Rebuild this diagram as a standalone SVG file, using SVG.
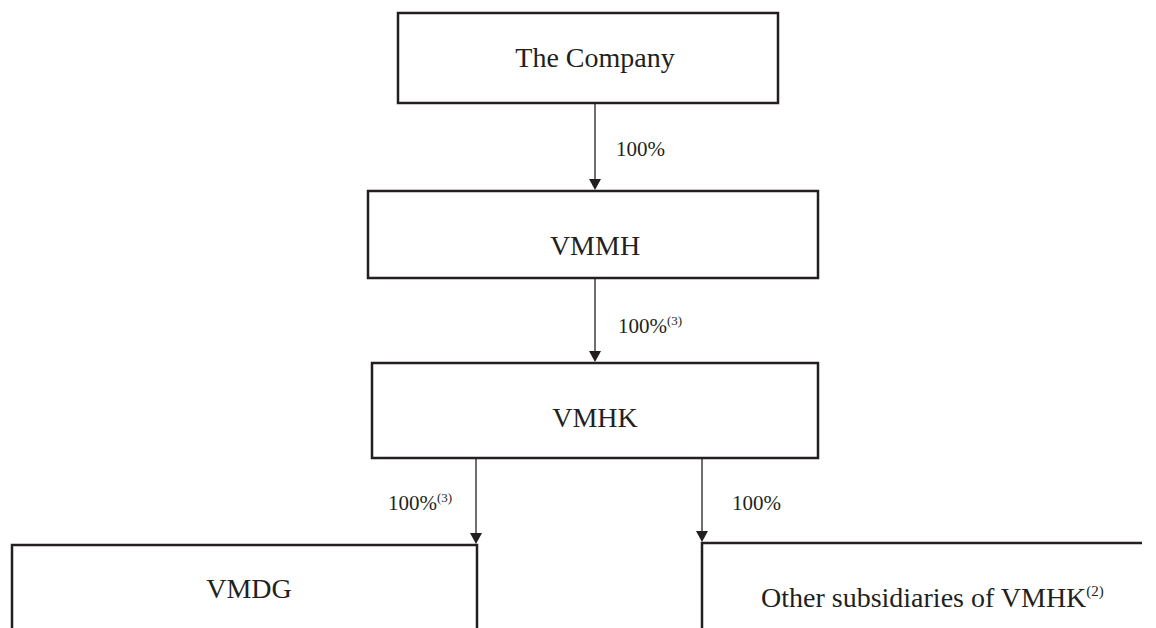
<svg xmlns="http://www.w3.org/2000/svg" width="1156" height="628" viewBox="0 0 1156 628">
<style>
.box{fill:#fff;stroke:#231f20;stroke-width:2.5}
.edge{stroke:#231f20;stroke-width:1.3;fill:none}
.head{fill:#231f20}
.t{font-family:"Liberation Serif","Times New Roman",serif;fill:#231f20}
.n{font-size:28px;text-anchor:middle}
.l{font-size:21px}
.s{font-size:13px}
</style>
<defs>
<path id="ah" d="M-6,-11 L6,-11 L0,0 Z"/>
</defs>
<rect width="1156" height="628" fill="#fff"/>
<g id="connectors">
<line class="edge" x1="595" y1="104" x2="595" y2="182"/>
<use href="#ah" class="head" x="595" y="190"/>
<line class="edge" x1="595" y1="279" x2="595" y2="354"/>
<use href="#ah" class="head" x="595" y="362"/>
<line class="edge" x1="476" y1="459" x2="476" y2="536"/>
<use href="#ah" class="head" x="476" y="544"/>
<line class="edge" x1="702" y1="459" x2="702" y2="534"/>
<use href="#ah" class="head" x="702" y="542"/>
<text class="t l" x="616" y="156">100%</text>
<text class="t l" x="618" y="333">100%<tspan class="s" dy="-8">(3)</tspan></text>
<text class="t l" x="388" y="510">100%<tspan class="s" dy="-8">(3)</tspan></text>
<text class="t l" x="732" y="510">100%</text>
</g>
<g id="company">
<rect class="box" x="398" y="13" width="380" height="90"/>
<text class="t n" x="595" y="67">The Company</text>
</g>
<g id="vmmh">
<rect class="box" x="368" y="191" width="450" height="87"/>
<text class="t n" x="595" y="255">VMMH</text>
</g>
<g id="vmhk">
<rect class="box" x="372" y="363" width="446" height="95"/>
<text class="t n" x="595" y="427">VMHK</text>
</g>
<g id="vmdg">
<path class="box" d="M12,640 L12,545 L477,545 L477,640"/>
<text class="t n" x="249" y="598">VMDG</text>
</g>
<g id="other">
<path class="box" d="M702,640 L702,543 L1142,543"/>
<text class="t" x="761" y="607" font-size="28">Other subsidiaries of VMHK<tspan font-size="15" dy="-11">(2)</tspan></text>
</g>
</svg>
